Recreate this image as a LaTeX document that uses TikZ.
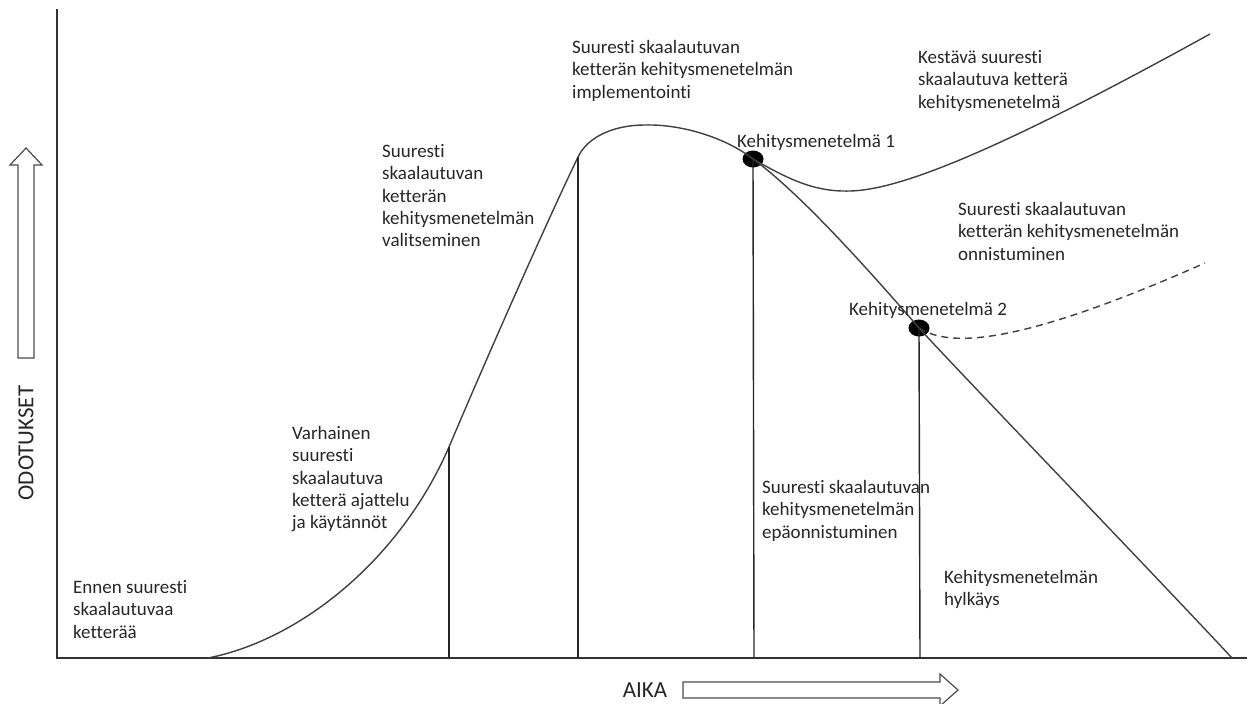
\documentclass[tikz,border=0pt]{standalone}
\usepackage{fontspec}
\setmainfont{Carlito}[Ligatures=NoCommon]
\usetikzlibrary{shapes.geometric}
\begin{document}
\begin{tikzpicture}[x=1pt,y=-1pt,
  axis/.style={draw=black!80, line width=1.8pt},
  curve/.style={draw=black!75, line width=1.4pt, line join=round},
  drop/.style={draw=black!85, line width=1.4pt},
  hollow/.style={draw=black!70, line width=1.2pt, fill=white, line join=miter},
  lbl/.style={anchor=north west, inner sep=0pt, align=left,
              font=\fontsize{19}{22.4}\selectfont, text=black!85},
  axlbl/.style={inner sep=0pt, font=\fontsize{23}{26}\selectfont, text=black!85},
  milestone/.style={ellipse, fill=black, inner sep=0pt,
                    minimum width=21pt, minimum height=17pt}]
\useasboundingbox (0,0) rectangle (1254,704);

% axes
\coordinate (origin) at (57,658);
\coordinate (ytop) at (57,9);
\coordinate (xend) at (1247,658);
\draw[axis] (ytop) -- (origin) -- (xend);

% hollow axis arrows
\draw[hollow] (18,358) -- (18,165) -- (10,165) -- (26,148) -- (42,165)
  -- (34,165) -- (34,358) -- cycle;
\node[axlbl, rotate=90] (yl) at (26,443) {ODOTUKSET};
\draw[hollow] (683,682) -- (940,682) -- (940,674) -- (958,690) -- (940,706)
  -- (940,698) -- (683,698) -- cycle;
\node[axlbl] (xl) at (645,690) {AIKA};

% milestones on the curve
\node[milestone] (m1) at (753,159) {};
\node[milestone] (m2) at (919,328) {};

% key points of the curve
\coordinate (start) at (208,658);
\coordinate (c1) at (449,447);
\coordinate (c2) at (578,157);
\coordinate (top) at (645,125);
\coordinate (end) at (1232,658);
\coordinate (g1) at (449,658);
\coordinate (g2) at (578,658);
\coordinate (g3) at (754,658);
\coordinate (g4) at (920,658);
\coordinate (dip) at (850,191);
\coordinate (up) at (1210,34);
\coordinate (rise) at (1205,263);

% main expectation curve: rise, peak, decline to abandonment
\draw[curve] (start) .. controls (300,640) and (400,560) .. (c1)
  .. controls (490,350) and (550,215) .. (c2)
  .. controls (588,136) and (615,125) .. (top)
  .. controls (680,124) and (725,137) .. (m1.center)
  .. controls (803,195) and (880,283) .. (m2.center)
  .. controls (959,372) and (1150,570) .. (end);

% sustained branch after milestone 1
\draw[curve] (m1.center) .. controls (790,180) and (815,192) .. (dip)
  .. controls (900,190) and (1000,150) .. (up);

% success branch after milestone 2
\draw[curve, dash pattern=on 7pt off 5pt] (m2.center)
  .. controls (950,348) and (1020,345) .. (rise);

% drop lines
\draw[drop] (c1) -- (g1);
\draw[drop] (c2) -- (g2);
\draw[drop] (m1.center) -- (g3);
\draw[drop] (m2.center) -- (g4);

% phase labels
\node[lbl] (t1) at (73,580) {Ennen suuresti\\skaalautuvaa\\ketterää};
\node[lbl] (t2) at (292,426) {Varhainen\\suuresti\\skaalautuva\\ketterä ajattelu\\ja käytännöt};
\node[lbl] (t3) at (382,144) {Suuresti\\skaalautuvan\\ketterän\\kehitysmenetelmän\\valitseminen};
\node[lbl] (t4) at (572,40) {Suuresti skaalautuvan\\ketterän kehitysmenetelmän\\implementointi};
\node[lbl] (t5) at (918,50) {Kestävä suuresti\\skaalautuva ketterä\\kehitysmenetelmä};
\node[lbl] (t6) at (737,134) {Kehitysmenetelmä 1};
\node[lbl] (t7) at (958,202) {Suuresti skaalautuvan\\ketterän kehitysmenetelmän\\onnistuminen};
\node[lbl] (t8) at (849,302) {Kehitysmenetelmä 2};
\node[lbl] (t9) at (762,480) {Suuresti skaalautuvan\\kehitysmenetelmän\\epäonnistuminen};
\node[lbl] (t10) at (944,570) {Kehitysmenetelmän\\hylkäys};
\end{tikzpicture}
\end{document}
